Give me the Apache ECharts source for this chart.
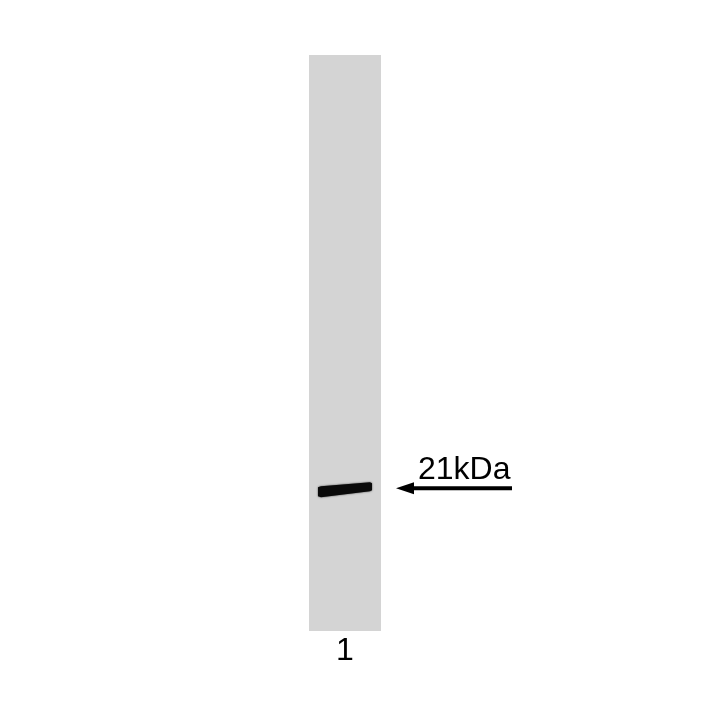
<!DOCTYPE html>
<html>
<head>
<meta charset="utf-8">
<script src="https://cdn.jsdelivr.net/npm/echarts@6/dist/echarts.min.js"></script>
<style>
html,body{margin:0;padding:0;background:#fff;}
#blot{width:720px;height:720px;}
</style>
</head>
<body>
<div id="blot"></div>
<script>
// lanes of the blot and where the band sits (migration, % of lane length from top)
var lanes = ['1'];
var bandLane = [0];
var bandPos = [75.4];
// size marker to the right of the lane
var markerLabels = ['21kDa'];
var markerPos = [75.2];

var Blot = {
	font: '"Liberation Sans", Arial, sans-serif',
	init: function () {
		var that = this;
		var chart = echarts.init(document.getElementById('blot'));

		var bandData = [];
		for (var i = 0; i < bandLane.length; i++) {
			bandData.push([bandLane[i], bandPos[i]]);
		}
		var markerData = [];
		for (var j = 0; j < markerLabels.length; j++) {
			markerData.push([0, markerPos[j], markerLabels[j]]);
		}

		var option = {
			animation: false,
			backgroundColor: '#fff',
			grid: {
				left: 309,
				width: 72,
				top: 55,
				height: 576,
				show: true,
				backgroundColor: '#d4d4d4',
				borderWidth: 0
			},
			xAxis: {
				type: 'category',
				data: lanes,
				axisLine: {show: false},
				axisTick: {show: false},
				splitLine: {show: false},
				axisLabel: {
					color: '#000',
					fontSize: 32,
					fontFamily: that.font,
					margin: 4
				}
			},
			yAxis: {
				type: 'value',
				min: 0,
				max: 100,
				inverse: true,
				show: false
			},
			series: [
				{
					// protein band
					type: 'custom',
					data: bandData,
					clip: false,
					renderItem: function (params, api) {
						var c = api.coord([api.value(0), api.value(1)]);
						var w = api.size([1, 0])[0] * 0.75;
						var x0 = c[0] - w / 2, x1 = c[0] + w / 2;
						var yl = c[1] + 2.5, yr = c[1] - 2.5;
						return {
							type: 'polygon',
							shape: {
								points: [
									[x0, yl - 4.5], [x0 + 3, yl - 5.5], [x1 - 2, yr - 4.5], [x1, yr - 3.5],
									[x1, yr + 3.5], [x1 - 2, yr + 4.5], [x0 + 3, yl + 5.5], [x0, yl + 4.5]
								]
							},
							style: {
								fill: '#0a0a0a',
								shadowBlur: 2,
								shadowColor: 'rgba(0,0,0,0.7)'
							}
						};
					}
				},
				{
					// molecular weight arrow + label
					type: 'custom',
					data: markerData,
					clip: false,
					renderItem: function (params, api) {
						var c = api.coord([api.value(0), api.value(1)]);
						var xs = c[0] + api.size([1, 0])[0] / 2 + 15;
						var y = c[1];
						var label = markerData[params.dataIndex][2];
						return {
							type: 'group',
							children: [
								{
									type: 'polygon',
									shape: {
										points: [[xs, y], [xs + 18, y - 6], [xs + 18, y + 6]]
									},
									style: {fill: '#000'}
								},
								{
									type: 'rect',
									shape: {x: xs + 16, y: y - 2, width: 100, height: 4},
									style: {fill: '#000'}
								},
								{
									type: 'text',
									style: {
										text: label,
										x: xs + 22,
										y: y - 2,
										fill: '#000',
										font: '32px ' + that.font,
										textAlign: 'left',
										textVerticalAlign: 'bottom'
									}
								}
							]
						};
					}
				}
			]
		};
		chart.setOption(option);
	}
};

Blot.init();
</script>
</body>
</html>
